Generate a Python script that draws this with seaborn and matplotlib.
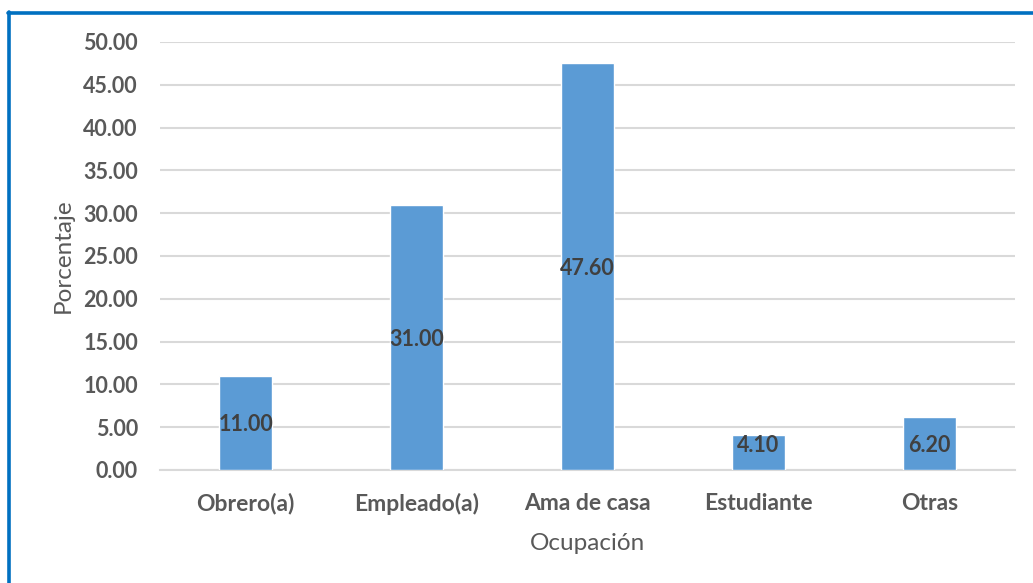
import matplotlib
matplotlib.use("Agg")
import matplotlib.pyplot as plt
from matplotlib.lines import Line2D
import seaborn as sns
import pandas as pd

categorias = ["Obrero(a)", "Empleado(a)", "Ama de casa", "Estudiante", "Otras"]
porcentajes = [11.00, 31.00, 47.60, 4.10, 6.20]
y_ticks = [0, 5, 10, 15, 20, 25, 30, 35, 40, 45, 50]

sns.set_theme(style="white")
plt.rcParams["font.family"] = ["Lato", "DejaVu Sans"]

df = pd.DataFrame({"Ocupación": categorias, "Porcentaje": porcentajes})

fig = plt.figure(figsize=(10.33, 5.83), dpi=100)
ax = fig.add_axes([0.155, 0.194, 0.8276, 0.734])

sns.barplot(data=df, x="Ocupación", y="Porcentaje", color="#5B9BD5",
            saturation=1, width=0.31, ax=ax, zorder=3)

ax.set_ylim(0, 50)
ax.set_xlim(-0.5, len(categorias) - 0.5)
ax.set_yticks(y_ticks)
ax.set_yticklabels([f"{v:.2f}" for v in y_ticks])
ax.yaxis.grid(True, color="#D9D9D9", linewidth=1.5, zorder=0)
ax.xaxis.grid(False)
for s in ["top", "right", "left"]:
    ax.spines[s].set_visible(False)
ax.spines["bottom"].set_color("#D9D9D9")
ax.spines["bottom"].set_linewidth(1.5)
ax.tick_params(axis="both", length=0, labelcolor="#595959")
ax.tick_params(axis="y", pad=16, labelsize=15.5)
ax.tick_params(axis="x", pad=16.5, labelsize=16.5)
for lbl in ax.get_xticklabels() + ax.get_yticklabels():
    lbl.set_fontweight("bold")

ax.set_ylabel("Porcentaje", fontsize=17.5, color="#595959", labelpad=7)
ax.set_xlabel("Ocupación", fontsize=17.5, color="#595959", labelpad=13)

# value labels centred in each bar (kept inside short bars)
for i, v in enumerate(porcentajes):
    ax.text(i, max(v / 2, 3.1) - 0.25, f"{v:.2f}", ha="center", va="center",
            fontsize=15.5, fontweight="bold", color="#404040", zorder=4)

# frame lines on the top and left of the figure
fig.add_artist(Line2D([8 / 1033, 1], [1 - 13 / 583, 1 - 13 / 583],
                      transform=fig.transFigure, color="#0070C0", linewidth=2.6))
fig.add_artist(Line2D([8.5 / 1033, 8.5 / 1033], [0, 1 - 12 / 583],
                      transform=fig.transFigure, color="#0070C0", linewidth=2.6))

fig.savefig("out.png", dpi=100)
